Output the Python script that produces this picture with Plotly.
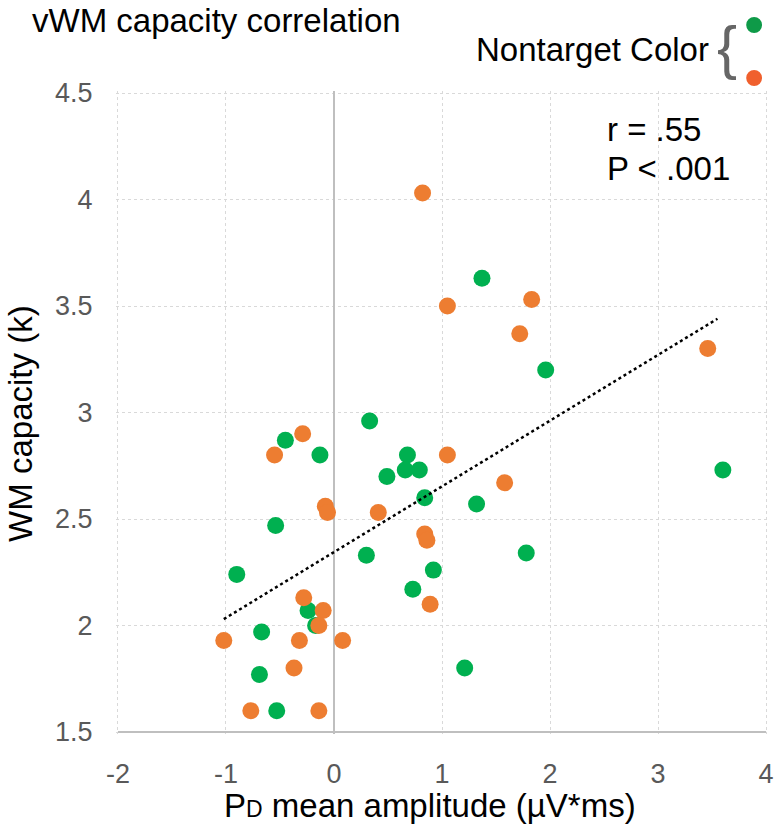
import plotly.graph_objects as go

# Nontarget colour: green condition
green_x = [1.37, 1.96, 3.60, 1.32, 1.78, 0.92, 1.21, 0.33, -0.45, -0.13, 0.68, 0.66,
           0.79, 0.49, 0.84, -0.54, 0.30, -0.90, 0.73, -0.24, -0.17, -0.67, -0.69, -0.53]
green_y = [3.63, 3.20, 2.73, 2.57, 2.34, 2.26, 1.80, 2.96, 2.87, 2.80, 2.80, 2.73,
           2.73, 2.70, 2.60, 2.47, 2.33, 2.24, 2.17, 2.07, 2.00, 1.97, 1.77, 1.60]

# Nontarget colour: orange condition
orange_x = [0.82, 1.05, 1.83, 1.72, 3.46, 1.05, 1.58, 0.89, -0.29, -0.55, -0.08, -0.06,
            0.41, 0.84, 0.86, -0.28, -0.10, -0.14, -1.02, -0.32, 0.08, -0.37, -0.77, -0.14]
orange_y = [4.03, 3.50, 3.53, 3.37, 3.30, 2.80, 2.67, 2.10, 2.90, 2.80, 2.56, 2.53,
            2.53, 2.43, 2.40, 2.13, 2.07, 2.00, 1.93, 1.93, 1.93, 1.80, 1.60, 1.60]

# linear trend line end points
trend_x = [-1.02, 3.55]
trend_y = [2.03, 3.44]

# tick labels (plain hyphen as minus, like the original)
x_ticks = [-2, -1, 0, 1, 2, 3, 4]
x_tick_text = ["-2", "-1", "0", "1", "2", "3", "4"]
y_ticks = [1.5, 2, 2.5, 3, 3.5, 4, 4.5]
y_tick_text = ["1.5", "2", "2.5", "3", "3.5", "4", "4.5"]

FONT = "Liberation Sans, Arial"
GREEN = "#00B050"
ORANGE = "#ED7D31"

# plot area in pixels (2px wider than the axes so the edge grid lines are drawn)
L, R, T, B = 116, 774, 91, 734
PW, PH = R - L, B - T


def px(x):
    return (x - L) / PW


def py(y):
    return (B - y) / PH


fig = go.Figure()
fig.add_trace(go.Scatter(x=green_x, y=green_y, mode="markers",
                         marker=dict(color=GREEN, size=17), showlegend=False))
fig.add_trace(go.Scatter(x=orange_x, y=orange_y, mode="markers",
                         marker=dict(color=ORANGE, size=17), showlegend=False))
fig.add_trace(go.Scatter(x=trend_x, y=trend_y, mode="lines",
                         line=dict(color="black", width=2.5, dash="dot"), showlegend=False))

fig.update_layout(
    width=783, height=832,
    margin=dict(l=L, r=783 - R, t=T, b=832 - B),
    plot_bgcolor="white", paper_bgcolor="white",
    font=dict(family=FONT, color="black"),
    xaxis=dict(range=[-2.018, 4.018], tickvals=x_ticks, ticktext=x_tick_text,
               showgrid=True, gridcolor="#D9D9D9", griddash="3px,3px",
               zeroline=True, zerolinecolor="#BFBFBF", zerolinewidth=2,
               showline=False,
               ticks="outside", ticklen=16, tickcolor="rgba(0,0,0,0)",
               tickfont=dict(size=27, color="#595959")),
    yaxis=dict(range=[1.4906, 4.5094], tickvals=y_ticks, ticktext=y_tick_text,
               showgrid=True, gridcolor="#D9D9D9", griddash="3px,3px",
               zeroline=False, showline=False,
               ticks="outside", ticklen=17, tickcolor="rgba(0,0,0,0)",
               tickfont=dict(size=27, color="#595959")),
)

# solid bottom axis line at y = 1.5
fig.add_shape(type="line", xref="x", yref="y", x0=x_ticks[0], x1=x_ticks[-1],
              y0=y_ticks[0], y1=y_ticks[0], line=dict(color="#BFBFBF", width=2))

# axis titles
fig.add_annotation(text="P<span style='font-size:23px'>D</span> mean amplitude (µV*ms)",
                   xref="paper", yref="paper", x=px(433), y=py(805),
                   xanchor="center", yanchor="middle", showarrow=False, font=dict(size=33))
fig.add_annotation(text="WM capacity (k)", xref="paper", yref="paper", x=px(19), y=py(423),
                   xanchor="center", yanchor="middle", textangle=-90,
                   showarrow=False, font=dict(size=33))

# chart title
fig.add_annotation(text="vWM capacity correlation", xref="paper", yref="paper",
                   x=px(29), y=py(20), xanchor="left", yanchor="middle",
                   showarrow=False, font=dict(size=33))

# correlation stats
fig.add_annotation(text="r = .55", xref="paper", yref="paper", x=px(609), y=py(129),
                   xanchor="left", yanchor="middle", showarrow=False, font=dict(size=33))
fig.add_annotation(text="P < .001", xref="paper", yref="paper", x=px(609), y=py(169),
                   xanchor="left", yanchor="middle", showarrow=False, font=dict(size=33))

# legend-like key at the top right
fig.add_annotation(text="Nontarget Color", xref="paper", yref="paper",
                   x=px(716), y=py(49), xanchor="right", yanchor="middle",
                   showarrow=False, font=dict(size=33))
fig.add_annotation(text="{", xref="paper", yref="paper",
                   x=px(733), y=py(48), xanchor="center", yanchor="middle",
                   showarrow=False, font=dict(size=60, color="#666666"))
fig.add_shape(type="circle", xref="paper", yref="paper", line=dict(width=0),
              fillcolor="#0E9A48", x0=px(752), x1=px(768), y0=py(33), y1=py(17))
fig.add_shape(type="circle", xref="paper", yref="paper", line=dict(width=0),
              fillcolor="#F0602D", x0=px(752), x1=px(768), y0=py(86), y1=py(70))

fig.write_html("out.html", post_script="document.body.style.margin='0';",
               config={"displayModeBar": False})
